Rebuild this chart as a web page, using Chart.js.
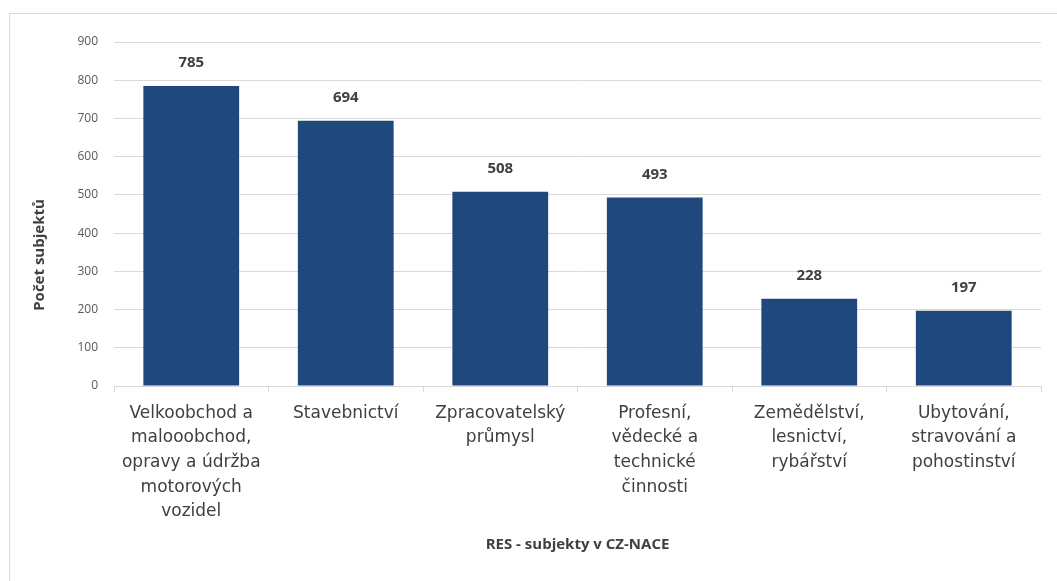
<!DOCTYPE html>
<html>
<head>
<meta charset="utf-8">
<script src="https://cdn.jsdelivr.net/npm/chart.js@4/dist/chart.umd.min.js"></script>
<style>
    html, body { margin: 0; padding: 0; background: #fff; }
    #wrap { position: relative; width: 1057px; height: 581px; overflow: hidden; }
    #frame { position: absolute; left: 9px; top: 13px; width: 1100px; height: 700px; border: 1px solid #d9d9d9; box-sizing: border-box; }
    #chart { position: absolute; left: 0; top: 0; }
</style>
</head>
<body>
<div id="wrap">
    <div id="frame"></div>
    <canvas id="chart" width="1057" height="581"></canvas>
</div>
<script>
const categories = [
    ["Velkoobchod a", "malooobchod,", "opravy a údržba", "motorových", "vozidel"],
    ["Stavebnictví"],
    ["Zpracovatelský", "průmysl"],
    ["Profesní,", "vědecké a", "technické", "činnosti"],
    ["Zemědělství,", "lesnictví,", "rybářství"],
    ["Ubytování,", "stravování a", "pohostinství"]
];
const subjekty = [785, 694, 508, 493, 228, 197];
const yTicks = [0, 100, 200, 300, 400, 500, 600, 700, 800, 900];

const xTitle = "RES - subjekty v CZ-NACE";
const yTitle = "Počet subjektů";

// value labels above the bars, placed from the bar elements
const barLabels = {
    id: "barLabels",
    afterDatasetsDraw(chart) {
        const ctx = chart.ctx;
        const meta = chart.getDatasetMeta(0);
        ctx.save();
        ctx.font = "bold 15px 'Open Sans'";
        ctx.fillStyle = "#404040";
        ctx.textAlign = "center";
        ctx.textBaseline = "middle";
        meta.data.forEach((bar, i) => {
            ctx.fillText(String(subjekty[i]), bar.x, bar.y - 23);
        });
        ctx.restore();
    }
};

// rotated y title, sits a bit lower than the axis centre like the original
const yTitlePlugin = {
    id: "yTitlePlugin",
    afterDraw(chart) {
        const ctx = chart.ctx;
        ctx.save();
        ctx.translate(40, 255);
        ctx.rotate(-Math.PI / 2);
        ctx.font = "bold 15px 'Open Sans'";
        ctx.fillStyle = "#404040";
        ctx.textAlign = "center";
        ctx.textBaseline = "middle";
        ctx.fillText(yTitle, 0, 0);
        ctx.restore();
    }
};

new Chart(document.getElementById("chart"), {
    type: "bar",
    data: {
        labels: categories,
        datasets: [{
            label: yTitle,
            data: subjekty,
            backgroundColor: "#1F497D",
            borderWidth: 0,
            barPercentage: 0.62,
            categoryPercentage: 1.0
        }]
    },
    options: {
        responsive: false,
        animation: false,
        layout: { padding: { top: 42, right: 16, left: 0, bottom: 0 } },
        plugins: {
            legend: { display: false },
            tooltip: { enabled: false }
        },
        scales: {
            x: {
                afterFit: (s) => { s.height = 195; },
                grid: {
                    offset: true,
                    drawOnChartArea: false,
                    drawTicks: true,
                    tickLength: 6,
                    color: "#d9d9d9"
                },
                border: { color: "#d9d9d9", width: 1 },
                ticks: {
                    padding: 9,
                    maxRotation: 0,
                    autoSkip: false,
                    color: "#404040",
                    font: { family: "'DejaVu Sans'", size: 17, lineHeight: 1.45 }
                },
                title: {
                    display: true,
                    text: xTitle,
                    color: "#404040",
                    font: { family: "'Open Sans'", size: 15, weight: "bold" },
                    padding: { top: 0, bottom: 27 }
                }
            },
            y: {
                min: 0,
                max: 900,
                afterFit: (s) => { s.width = 114; },
                afterBuildTicks: (s) => { s.ticks = yTicks.map(v => ({ value: v })); },
                grid: { color: "#d9d9d9", drawTicks: false },
                border: { display: false },
                ticks: {
                    padding: 16,
                    color: "#595959",
                    font: { family: "'Open Sans'", size: 12 }
                }
            }
        }
    },
    plugins: [barLabels, yTitlePlugin]
});
</script>
</body>
</html>
